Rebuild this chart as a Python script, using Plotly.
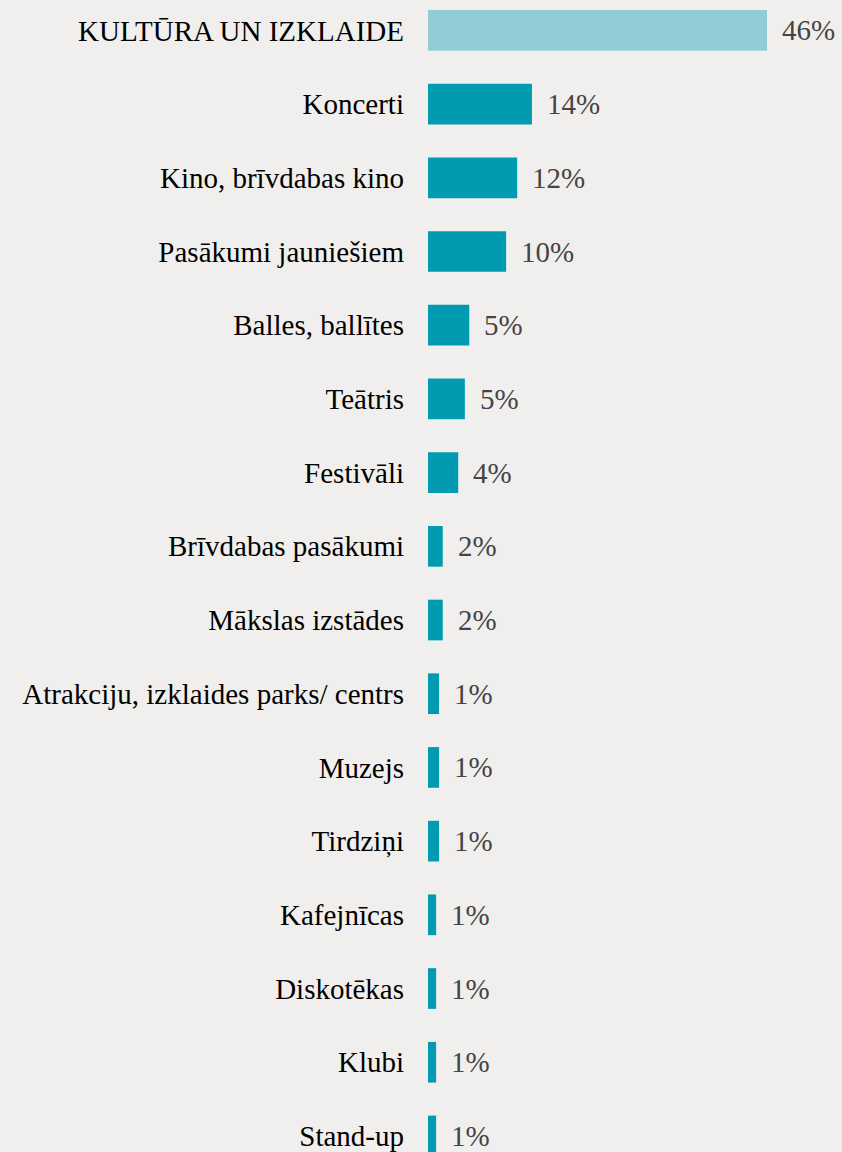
import plotly.graph_objects as go

categories = [
    "KULTŪRA UN IZKLAIDE", "Koncerti", "Kino, brīvdabas kino", "Pasākumi jauniešiem",
    "Balles, ballītes", "Teātris", "Festivāli", "Brīvdabas pasākumi", "Mākslas izstādes",
    "Atrakciju, izklaides parks/ centrs", "Muzejs", "Tirdziņi", "Kafejnīcas",
    "Diskotēkas", "Klubi", "Stand-up",
]
values = [46.0, 14.1, 12.1, 10.6, 5.6, 5.0, 4.1, 2.0, 2.0, 1.5, 1.5, 1.5, 1.1, 1.1, 1.1, 1.1]
labels = ["46%", "14%", "12%", "10%", "5%", "5%", "4%", "2%", "2%", "1%", "1%", "1%",
          "1%", "1%", "1%", "1%"]
colors = ["#92CDD5"] + ["#009BB1"] * (len(categories) - 1)

FONT = "Liberation Serif, Times New Roman, serif"

fig = go.Figure(go.Bar(
    x=values, y=categories, orientation="h",
    marker=dict(color=colors, line=dict(width=0)),
    hoverinfo="skip",
))

for c, v, t in zip(categories, values, labels):
    fig.add_annotation(x=v, y=c, text=t, showarrow=False, xanchor="left",
                       yanchor="middle", xshift=13,
                       font=dict(family=FONT, size=29, color="#454545"))

fig.update_layout(
    width=842, height=1152,
    margin=dict(l=428, r=0, t=0, b=0),
    paper_bgcolor="#F0EFED", plot_bgcolor="#F0EFED",
    bargap=0.448,
    showlegend=False,
    font=dict(family=FONT, size=29, color="#000000"),
)
fig.update_xaxes(range=[0, 414 / 7.37], showgrid=False, zeroline=False,
                 showticklabels=False, showline=False)
fig.update_yaxes(type="category", categoryorder="array", categoryarray=categories,
                 range=[15.218, -0.4125], showgrid=False, zeroline=False, showline=False,
                 ticks="", ticklabelstandoff=23,
                 tickfont=dict(family=FONT, size=29, color="#000000"))

fig.write_html(
    "out.html",
    config={"displayModeBar": False},
    post_script="document.body.style.margin='0';document.body.style.overflow='hidden';"
                "document.body.style.background='#F0EFED';",
)
